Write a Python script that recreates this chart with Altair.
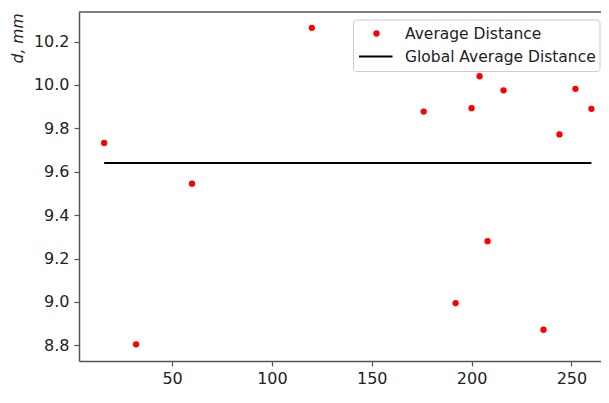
import altair as alt
import pandas as pd

# Data
t_values = [16, 32, 60, 120, 176, 192, 200, 204, 208, 216, 236, 244, 252, 260]
d_values = [9.733, 8.805, 9.545, 10.263, 9.877, 8.995, 9.893, 10.04, 9.28, 9.975, 8.872, 9.772, 9.982, 9.89]
global_avg = 9.64
global_t = [16, 260]
legend_labels = ["Average Distance", "Global Average Distance"]
y_ticks = [8.8, 9.0, 9.2, 9.4, 9.6, 9.8, 10.0, 10.2]
x_ticks = [50, 100, 150, 200, 250]

FONT = "DejaVu Sans"
W, H = 522, 349

pts = pd.DataFrame({"t": t_values, "d": d_values})
line_df = pd.DataFrame({"t": [global_t[0]], "t2": [global_t[1]], "d": [global_avg]})
one = pd.DataFrame({"a": [0]})

xscale = alt.Scale(domain=[3.4, 264.8], nice=False, zero=False)
yscale = alt.Scale(domain=[8.728, 10.336], nice=False, zero=False)

x_axis = alt.Axis(values=x_ticks, format="d", grid=False, title=None,
                  tickSize=5, labelPadding=4, labelFontSize=16, labelFont=FONT,
                  labelColor="#222", domainColor="#555", tickColor="#555",
                  domainWidth=1.5, tickWidth=1.2, labelFlush=False)
y_axis = alt.Axis(values=y_ticks, format=".1f", grid=False, title="d, mm",
                  tickSize=5, labelPadding=5, labelFontSize=16, labelFont=FONT,
                  labelColor="#222", domainColor="#555", tickColor="#555",
                  domainWidth=1.5, tickWidth=1.2,
                  titleFont=FONT, titleFontSize=15.5, titleFontStyle="italic",
                  titleFontWeight="normal", titleColor="#222",
                  titleAngle=270, titleAlign="right", titleBaseline="middle",
                  titleX=-61.5, titleY=1, labelFlush=False)

points = alt.Chart(pts).mark_circle(color="red", size=40, opacity=1).encode(
    x=alt.X("t:Q", scale=xscale, axis=x_axis),
    y=alt.Y("d:Q", scale=yscale, axis=y_axis),
)

avg_line = alt.Chart(line_df).mark_rule(color="black", strokeWidth=2).encode(
    x="t:Q", x2="t2:Q", y="d:Q"
)

top_spine = alt.Chart(one).mark_rule(color="#555", strokeWidth=1.5).encode(
    x=alt.value(0), x2=alt.value(W), y=alt.value(0)
)

legend_box = alt.Chart(one).mark_rect(
    fill="white", fillOpacity=0.85, stroke="#cccccc", strokeWidth=1, cornerRadius=3
).encode(x=alt.value(274.5), x2=alt.value(521), y=alt.value(8), y2=alt.value(59.5))

legend_dot = alt.Chart(one).mark_circle(color="red", size=40, opacity=1).encode(
    x=alt.value(297.5), y=alt.value(21.5)
)
legend_line = alt.Chart(one).mark_rule(color="black", strokeWidth=2).encode(
    x=alt.value(280), x2=alt.value(313.5), y=alt.value(44.5)
)
legend_txt1 = alt.Chart(one).mark_text(
    text=legend_labels[0], align="left", baseline="middle", font=FONT, fontSize=15.5, color="#222"
).encode(x=alt.value(326), y=alt.value(21.5))
legend_txt2 = alt.Chart(one).mark_text(
    text=legend_labels[1], align="left", baseline="middle", font=FONT, fontSize=15.5, color="#222"
).encode(x=alt.value(326), y=alt.value(44.5))

chart = alt.layer(
    avg_line, points, top_spine, legend_box, legend_dot, legend_line, legend_txt1, legend_txt2
).properties(
    width=W, height=H,
    autosize=alt.AutoSizeParams(type="none"),
    padding={"left": 71, "top": 4, "right": 0, "bottom": 27},
).configure_view(stroke=None)

chart.save("out.html", embed_options={"renderer": "svg", "actions": False})
